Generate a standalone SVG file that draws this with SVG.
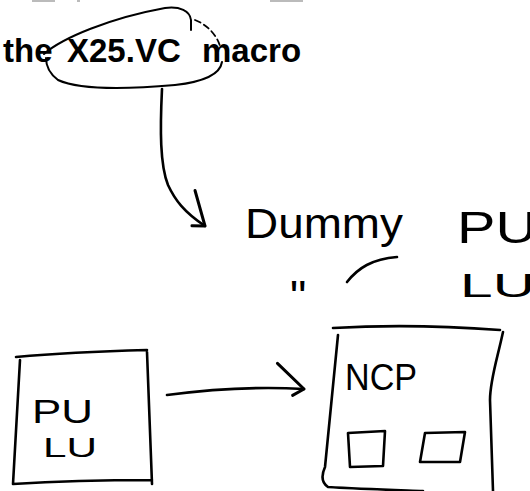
<svg xmlns="http://www.w3.org/2000/svg" width="530" height="491" viewBox="0 0 530 491">
<style>
.ink{fill:none;stroke:#000;stroke-width:2.6;stroke-linecap:round;stroke-linejoin:round}
.thin{fill:none;stroke:#000;stroke-width:2;stroke-linecap:round;stroke-linejoin:round}
.dash{fill:none;stroke:#000;stroke-width:1.8;stroke-dasharray:6 4;stroke-linecap:round}
.hand{font-family:"Liberation Sans","DejaVu Sans",sans-serif;fill:#000}
.title{font-family:"Liberation Sans",Arial,sans-serif;font-weight:bold;font-size:33px;fill:#000}
.faint{fill:none;stroke:#bbb;stroke-width:2}
</style>
<defs>
<marker id="hand-arrow" markerUnits="userSpaceOnUse" markerWidth="40" markerHeight="40" refX="30" refY="20" orient="auto" overflow="visible">
<path d="M2,-4 L30,20 L19,27" fill="none" stroke="#000" stroke-width="3" stroke-linecap="round" stroke-linejoin="round"/>
</marker>
</defs>
<rect width="530" height="491" fill="#fff"/>
<g id="scan-marks">
<path class="faint" d="M32,1 L55,1 M77,1 L80,1 M270,1 L303,1"/>
</g>
<g id="macro-label">
<text class="title" y="62"><tspan x="3">the</tspan><tspan x="67">X25.VC</tspan><tspan x="202">macro</tspan></text>
<path class="thin" d="M44,54 C62,38 110,18 165,8 C180,6 190,11 191,20 L191,30"/>
<path class="dash" d="M195,20 C208,25 217,36 220,46"/>
<path class="thin" d="M222,62 C220,75 202,82 175,85 C130,89 82,91 58,80 C50,74 46,66 46,58"/>
</g>
<g id="dummy-pu-lu">
<text class="hand" x="245" y="238" font-size="42" textLength="158" lengthAdjust="spacingAndGlyphs">Dummy</text>
<text class="hand" x="457" y="243" font-size="44" textLength="80" lengthAdjust="spacingAndGlyphs">PU</text>
<text class="hand" x="290" y="313" font-size="46">"</text>
<text class="hand" x="460" y="297" font-size="33" textLength="75" lengthAdjust="spacingAndGlyphs">LU</text>
<path class="ink" d="M347,282 C358,268 372,259 397,257"/>
</g>
<g id="pu-lu-box">
<path class="ink" d="M16,357 C60,353 110,351 147,350 M20,360 L13,484 M147,352 L152,484 M13,484 C60,481 110,480 152,480"/>
<text class="hand" x="32" y="423" font-size="34" textLength="61" lengthAdjust="spacingAndGlyphs">PU</text>
<text class="hand" x="43" y="457" font-size="28" textLength="54" lengthAdjust="spacingAndGlyphs">LU</text>
</g>
<g id="ncp-box">
<path class="ink" d="M333,328 C400,324 460,327 500,330 M338,335 L325,467 C321,476 322,483 328,487 C360,489 395,490 423,491 M503,332 C497,360 490,380 490,400 L493,491"/>
<text class="hand" x="345" y="390" font-size="37" textLength="72" lengthAdjust="spacingAndGlyphs">NCP</text>
<path class="ink" d="M348,433 L385,431 L383,466 L350,467 Z"/>
<path class="ink" d="M425,433 L465,432 L460,462 L420,462 Z"/>
</g>
<g id="connectors">
<path class="ink" d="M162,89 C160,130 160,165 168,185 C175,200 184,212 205,226" marker-end="url(#hand-arrow)"/>
<path class="ink" d="M167,395 C220,388 270,387 304,389" marker-end="url(#hand-arrow)"/>
</g>
</svg>
